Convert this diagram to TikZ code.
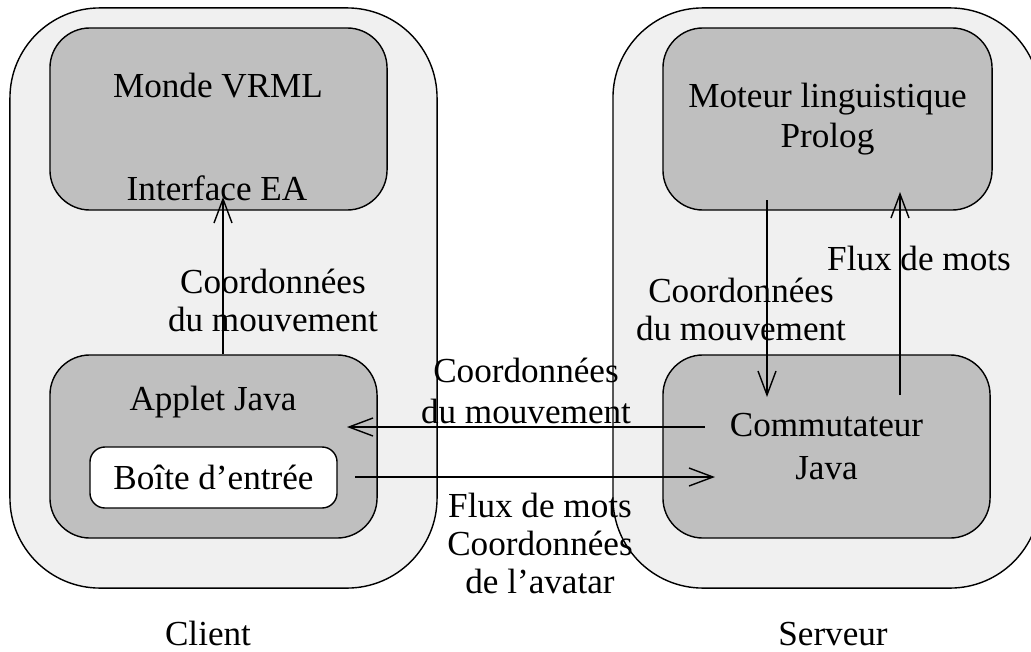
\documentclass[tikz,border=0pt]{standalone}
\usepackage{fontspec}
\setmainfont{Liberation Serif}
\usetikzlibrary{arrows.meta}

\tikzset{
  zone/.style={draw=black, line width=1pt, fill=black!6, rounded corners=2.25cm,
    minimum width=10.675cm, minimum height=14.5cm},
  module/.style={draw=black, line width=1pt, fill=black!25, rounded corners=1cm,
    font=\fontsize{25}{27}\selectfont, align=center},
  champ/.style={draw=black, line width=1pt, fill=white, rounded corners=0.375cm,
    minimum width=6.175cm, minimum height=1.525cm, font=\fontsize{25}{27}\selectfont},
  etiq/.style={font=\fontsize{25}{27}\selectfont, align=center, inner sep=0pt},
  flux/.style={-{Straight Barb[length=0.6cm,width=0.45cm]}, line width=1pt},
}

\begin{document}
\begin{tikzpicture}[x=0.025cm, y=-0.025cm]
  \path[use as bounding box, clip] (0,0) rectangle (1031,651);

  % les deux zones
  \node[zone] (client) at (223.5,298) {};
  \node[zone] (serveur) at (826.5,298) {};

  % modules
  \node[module, minimum width=8.425cm, minimum height=4.55cm] (vrml) at (218.5,119) {};
  \node[module, minimum width=8.225cm, minimum height=4.55cm] (prolog) at (827.5,119)
    {Moteur linguistique\\[1pt]Prolog};
  \node[module, minimum width=8.175cm, minimum height=4.575cm] (applet) at (213.5,446.5) {};
  \node[module, minimum width=8.175cm, minimum height=4.575cm] (commut) at (826.5,446.5)
    {Commutateur\\[4pt]Java};
  \node[champ] (boite) at (213.5,477.5) {Boîte d’entrée};

  \node[etiq] (monde) at (218,86) {Monde VRML};
  \node[etiq] (eai) at (217,188) {Interface EA};
  \node[etiq] (appletTxt) at (213,402) {Applet Java};

  % extremites des fleches
  \coordinate (eaIn) at (223,197);
  \coordinate (prologOut) at (767,200);
  \coordinate (commIn) at (767,397);
  \coordinate (commOut) at (900,395);
  \coordinate (prologIn) at (900,192);
  \coordinate (commLeft) at (705,427);
  \coordinate (appletIn) at (347,427);
  \coordinate (boiteOut) at (355,477);
  \coordinate (commRight) at (715,477);

  \draw[flux] (applet.north -| eaIn) -- (eaIn);
  \draw[flux] (prologOut) -- (commIn);
  \draw[flux] (commOut) -- (prologIn);
  \draw[flux] (commLeft) -- (appletIn);
  \draw[flux] (boiteOut) -- (commRight);

  % textes des fleches
  \node[etiq] (coordClient) at (273,300) {Coordonnées\\du mouvement};
  \node[etiq] (coordServ) at (741,309) {Coordonnées\\du mouvement};
  \node[etiq] (fluxServ) at (919,258) {Flux de mots};
  \node[etiq] (coordMil) at (526,391) {Coordonnées\\[2pt]du mouvement};
  \node[etiq] (fluxMil) at (540,543) {Flux de mots\\Coordonnées\\de l’avatar};

  \node[etiq, anchor=base] (clientTxt) at (208,645) {Client};
  \node[etiq, anchor=base] (serveurTxt) at (833,645) {Serveur};
\end{tikzpicture}
\end{document}
